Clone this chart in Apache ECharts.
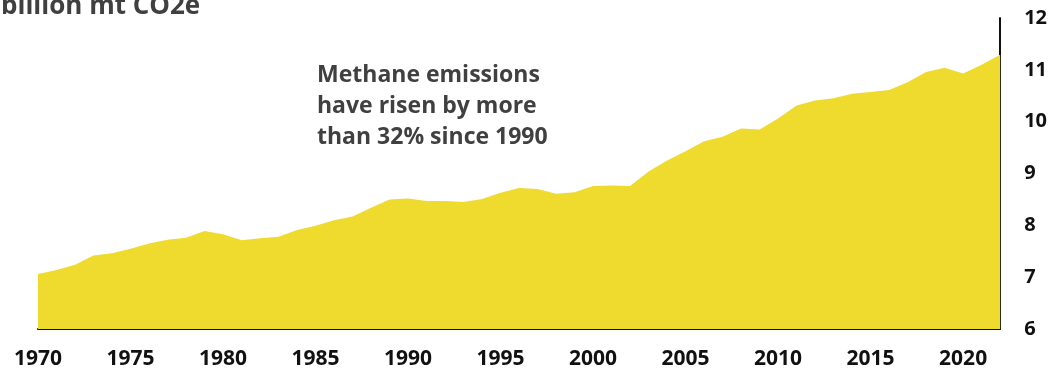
<!DOCTYPE html>
<html>
<head>
<meta charset="utf-8">
<script src="https://cdn.jsdelivr.net/npm/echarts@6/dist/echarts.min.js"></script>
<style>
  html, body { margin: 0; padding: 0; background: #fff; }
  #chart { width: 1050px; height: 374px; }
</style>
</head>
<body>
<div id="chart"></div>
<script>
// Global methane emissions, billion metric tons CO2-equivalent
const years = [];
for (let y = 1970; y <= 2022; y++) years.push(String(y));

const emissions = [
  7.06, 7.14, 7.24, 7.42, 7.46, 7.55, 7.65, 7.72, 7.76, 7.89,
  7.83, 7.71, 7.75, 7.78, 7.91, 7.99, 8.10, 8.17, 8.34, 8.50,
  8.52, 8.47, 8.47, 8.45, 8.51, 8.63, 8.72, 8.70, 8.61, 8.64,
  8.76, 8.77, 8.76, 9.04, 9.25, 9.43, 9.62, 9.71, 9.87, 9.85,
  10.06, 10.31, 10.41, 10.45, 10.54, 10.57, 10.61, 10.76, 10.96, 11.04,
  10.93, 11.10, 11.29
];

const unitLabel = 'billion mt CO2e';
const noteLines = ['Methane emissions', 'have risen by more', 'than 32% since 1990'];

const FONT = '"Open Sans", sans-serif';
const chart = echarts.init(document.getElementById('chart'));

chart.setOption({
  animation: false,
  grid: { left: 38, right: 47, top: 18, bottom: 45 },
  xAxis: {
    type: 'category',
    data: years,
    boundaryGap: false,
    axisLine: { show: true, lineStyle: { color: '#111', width: 2 } },
    axisTick: { show: false },
    axisLabel: {
      interval: 4,
      margin: 20,
      color: '#111',
      fontFamily: FONT,
      fontWeight: 'bold',
      fontSize: 21
    },
    splitLine: { show: false }
  },
  yAxis: {
    type: 'value',
    position: 'right',
    min: 6,
    max: 12,
    interval: 1,
    axisLine: { show: true, lineStyle: { color: '#111', width: 2 } },
    axisTick: { show: false },
    axisLabel: {
      margin: 24,
      align: 'left',
      color: '#111',
      fontFamily: FONT,
      fontWeight: 'bold',
      fontSize: 20
    },
    splitLine: { show: false }
  },
  series: [{
    type: 'line',
    data: emissions,
    symbol: 'none',
    lineStyle: { width: 0 },
    areaStyle: { color: '#EFDA2E', opacity: 1 },
    z: 1
  }],
  graphic: [
    {
      type: 'text',
      left: 1,
      top: -6,
      style: {
        text: unitLabel,
        fill: '#404040',
        font: 'bold 26px ' + FONT
      }
    },
    {
      type: 'text',
      left: 317,
      top: 60,
      style: {
        text: noteLines.join('\n'),
        fill: '#404040',
        font: 'bold 23px ' + FONT,
        lineHeight: 31
      }
    }
  ]
});
</script>
</body>
</html>
